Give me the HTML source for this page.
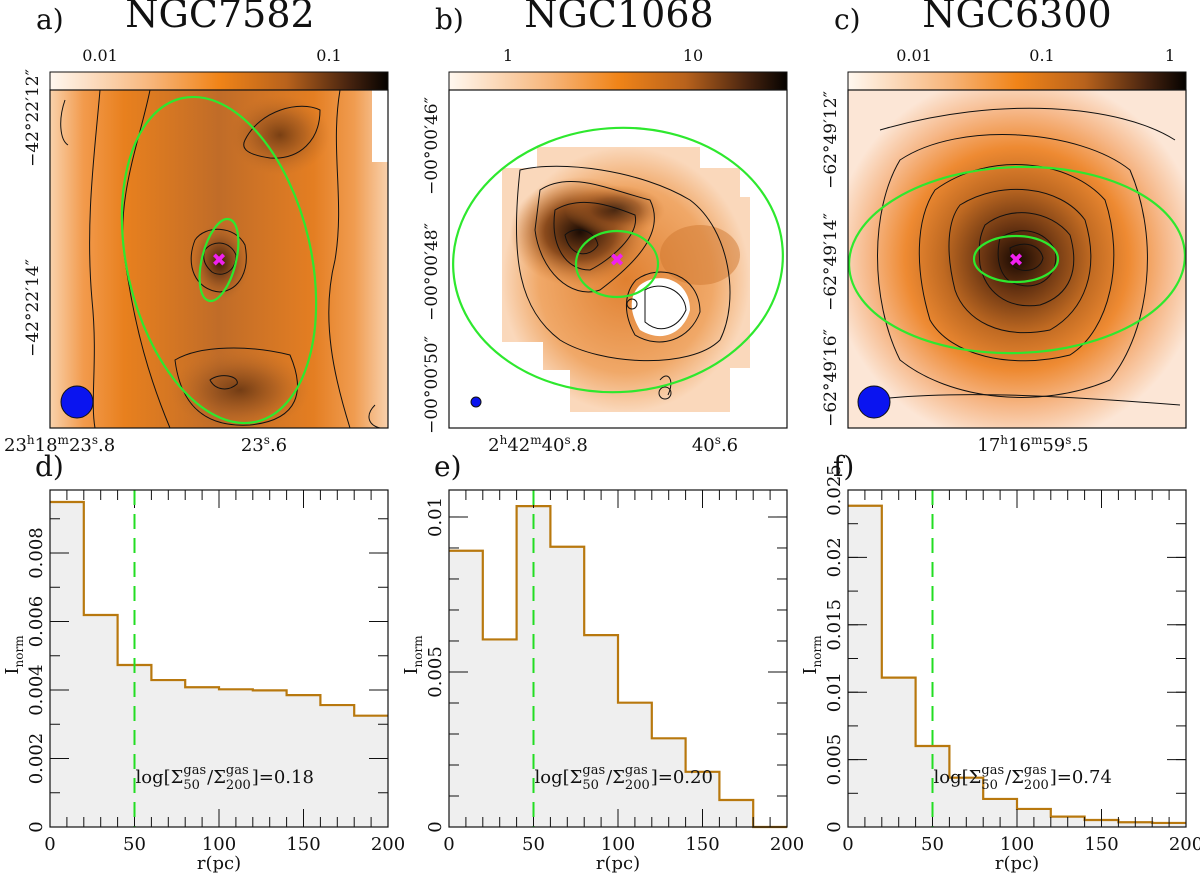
<!DOCTYPE html>
<html><head><meta charset="utf-8"><style>
html,body{margin:0;padding:0;background:#fff;width:1200px;height:873px;overflow:hidden}
svg{display:block}
text{font-family:"DejaVu Serif","Liberation Serif",serif;fill:#111}
</style></head><body>
<svg id="fig" width="1200" height="873" viewBox="0 0 1200 873" xmlns="http://www.w3.org/2000/svg">
<defs>
<linearGradient id="cbar" x1="0" x2="1" y1="0" y2="0">
<stop offset="0" stop-color="#fff8f0"/><stop offset="0.3" stop-color="#f7b57a"/><stop offset="0.5" stop-color="#f08418"/><stop offset="0.7" stop-color="#b8621c"/><stop offset="0.88" stop-color="#4a2510"/><stop offset="1" stop-color="#050200"/>
</linearGradient>
<linearGradient id="bgA" x1="0" x2="1" y1="0" y2="0">
<stop offset="0" stop-color="#f9d2ac"/><stop offset="0.1" stop-color="#f29a4c"/><stop offset="0.22" stop-color="#e8801e"/><stop offset="0.5" stop-color="#c06c28"/><stop offset="0.78" stop-color="#e47e22"/><stop offset="0.9" stop-color="#f09c50"/><stop offset="1" stop-color="#f8d0ac"/>
</linearGradient>
<radialGradient id="coreA"><stop offset="0" stop-color="#3a1a08"/><stop offset="0.5" stop-color="#8a4c1e" stop-opacity="0.8"/><stop offset="1" stop-color="#b86a28" stop-opacity="0"/></radialGradient>
<radialGradient id="blobB"><stop offset="0" stop-color="#1c0c04"/><stop offset="0.5" stop-color="#8a4a1c"/><stop offset="1" stop-color="#d27a30" stop-opacity="0"/></radialGradient>
<radialGradient id="bgB"><stop offset="0" stop-color="#e08030"/><stop offset="0.7" stop-color="#f0a868"/><stop offset="1" stop-color="#fad8bb"/></radialGradient>
<radialGradient id="bgC" cx="0.5" cy="0.5" r="0.55"><stop offset="0" stop-color="#1a0a02"/><stop offset="0.18" stop-color="#6a3512"/><stop offset="0.4" stop-color="#c06a22"/><stop offset="0.6" stop-color="#ee8a32"/><stop offset="0.8" stop-color="#f6b889"/><stop offset="1" stop-color="#fce6d6"/></radialGradient>
<clipPath id="cA"><rect x="50" y="90" width="338" height="338"/></clipPath>
<clipPath id="cB"><rect x="449" y="90" width="338" height="338"/></clipPath>
<clipPath id="cC"><rect x="848" y="90" width="338" height="338"/></clipPath>
</defs>

<!-- Panel a -->
<g>
<text x="36" y="29" font-size="28">a)</text>
<text x="220" y="27" font-size="38" text-anchor="middle">NGC7582</text>
<rect x="50" y="72" width="338" height="18" fill="url(#cbar)" stroke="#111"/>
<text x="100" y="61" font-size="16" text-anchor="middle" font-family="Liberation Sans">0.01</text>
<text x="329" y="61" font-size="16" text-anchor="middle" font-family="Liberation Sans">0.1</text>
<g clip-path="url(#cA)">
<rect x="50" y="90" width="338" height="338" fill="url(#bgA)"/>
<rect x="372" y="90" width="16" height="72" fill="#fff"/>
<ellipse cx="280" cy="135" rx="50" ry="40" fill="url(#coreA)" opacity="0.6"/>
<ellipse cx="240" cy="390" rx="70" ry="40" fill="url(#coreA)" opacity="0.6"/>
<ellipse cx="220" cy="262" rx="30" ry="40" fill="url(#coreA)"/>
<g fill="none" stroke="#111" stroke-width="1">
<path d="M100 90 C95 150 85 220 92 300 C98 360 90 400 95 428"/>
<path d="M150 90 C140 140 115 200 125 260 C135 330 150 380 170 428"/>
<path d="M340 90 C330 150 345 200 335 260 C320 320 335 380 350 428"/>
<path d="M245 140 C260 110 300 100 320 110 C320 140 300 160 270 158 C250 155 240 150 245 140Z"/>
<path d="M195 240 C205 225 235 225 245 245 C250 270 240 290 220 292 C195 290 185 265 195 240Z"/>
<path d="M205 250 C212 240 230 240 236 255 C236 272 222 278 212 272 C204 265 202 258 205 250Z"/>
<path d="M175 360 C200 345 250 345 290 355 C305 390 300 420 250 425 C200 428 180 400 175 360Z"/>
<path d="M210 380 C220 372 240 376 237 384 C228 392 215 390 210 380Z"/>
<path d="M65 100 C58 120 60 140 68 145"/><path d="M375 405 C365 415 368 425 380 428"/>
</g>
<ellipse cx="219" cy="260" rx="92" ry="166" transform="rotate(-13 219 260)" fill="none" stroke="#2ee82e" stroke-width="2.2"/>
<ellipse cx="219" cy="260" rx="17" ry="42" transform="rotate(14 219 260)" fill="none" stroke="#2ee82e" stroke-width="2.2"/>
<text x="219" y="266" font-size="18" text-anchor="middle" style="fill:#f020f0">✖</text>
<circle cx="77" cy="402" r="16" fill="#0a14f0" stroke="#111"/>
</g>
<rect x="50" y="90" width="338" height="338" fill="none" stroke="#111" stroke-width="1.2"/>
<text transform="translate(38,118) rotate(-90)" font-size="17" text-anchor="middle" font-family="Liberation Sans">−42°22′12″</text>
<text transform="translate(38,308) rotate(-90)" font-size="17" text-anchor="middle" font-family="Liberation Sans">−42°22′14″</text>
<text x="4" y="451" font-size="18" font-family="Liberation Sans">23<tspan dy="-7" font-size="12">h</tspan><tspan dy="7">18</tspan><tspan dy="-7" font-size="12">m</tspan><tspan dy="7">23</tspan><tspan dy="-7" font-size="12">s</tspan><tspan dy="7">.8</tspan></text>
<text x="264" y="451" font-size="18" text-anchor="middle" font-family="Liberation Sans">23<tspan dy="-7" font-size="12">s</tspan><tspan dy="7">.6</tspan></text>
</g>

<!-- Panel b -->
<g>
<text x="435" y="29" font-size="28">b)</text>
<text x="619" y="27" font-size="38" text-anchor="middle">NGC1068</text>
<rect x="449" y="72" width="338" height="18" fill="url(#cbar)" stroke="#111"/>
<text x="508" y="61" font-size="16" text-anchor="middle" font-family="Liberation Sans">1</text>
<text x="693" y="61" font-size="16" text-anchor="middle" font-family="Liberation Sans">10</text>
<g clip-path="url(#cB)">
<path d="M537 147 L700 147 L700 168 L740 168 L740 197 L750 197 L750 368 L730 368 L730 412 L570 412 L570 370 L543 370 L543 342 L502 342 L502 168 L537 168 Z" fill="url(#bgB)"/>
<ellipse cx="580" cy="232" rx="70" ry="55" fill="url(#blobB)"/>
<ellipse cx="615" cy="210" rx="50" ry="25" fill="url(#blobB)" opacity="0.7"/>
<ellipse cx="700" cy="255" rx="40" ry="30" fill="#d07830" opacity="0.5"/>
<path d="M640 285 C660 270 690 280 690 310 C685 330 665 345 640 330 C628 310 630 295 640 285Z" fill="#fff"/>
<g fill="none" stroke="#111" stroke-width="1">
<path d="M540 190 C570 170 610 190 650 200 C665 230 640 260 600 290 C570 300 540 270 535 230 Z"/>
<path d="M555 210 C580 195 610 205 635 215 C640 235 610 260 590 270 C565 270 550 245 555 210Z"/>
<path d="M565 235 C575 225 595 230 598 245 C590 258 570 258 565 235Z"/>
<path d="M520 170 C560 160 640 170 690 200 C730 230 740 300 720 340 C690 370 600 365 560 340 C520 310 510 260 520 170Z"/>
<path d="M636 280 C660 262 700 275 700 312 C690 340 660 350 635 335 C622 312 625 292 636 280Z"/>
<path d="M645 290 C660 280 685 290 686 310 C678 328 660 335 645 322 Z"/>
<path d="M660 380 C668 370 675 380 668 395"/>
<circle cx="665" cy="393" r="6"/><circle cx="632" cy="304" r="5"/>
</g>
<ellipse cx="618" cy="260" rx="165" ry="132" transform="rotate(-4 618 260)" fill="none" stroke="#2ee82e" stroke-width="2.2"/>
<ellipse cx="617" cy="264" rx="41" ry="33" fill="none" stroke="#2ee82e" stroke-width="2.2"/>
<text x="617" y="266" font-size="18" text-anchor="middle" style="fill:#f020f0">✖</text>
<circle cx="476" cy="402" r="5" fill="#0a14f0" stroke="#111"/>
</g>
<rect x="449" y="90" width="338" height="338" fill="none" stroke="#111" stroke-width="1.2"/>
<text transform="translate(437,146) rotate(-90)" font-size="17" text-anchor="middle" font-family="Liberation Sans">−00°00′46″</text>
<text transform="translate(437,272) rotate(-90)" font-size="17" text-anchor="middle" font-family="Liberation Sans">−00°00′48″</text>
<text transform="translate(437,385) rotate(-90)" font-size="17" text-anchor="middle" font-family="Liberation Sans">−00°00′50″</text>
<text x="538" y="451" font-size="18" text-anchor="middle" font-family="Liberation Sans">2<tspan dy="-7" font-size="12">h</tspan><tspan dy="7">42</tspan><tspan dy="-7" font-size="12">m</tspan><tspan dy="7">40</tspan><tspan dy="-7" font-size="12">s</tspan><tspan dy="7">.8</tspan></text>
<text x="715" y="451" font-size="18" text-anchor="middle" font-family="Liberation Sans">40<tspan dy="-7" font-size="12">s</tspan><tspan dy="7">.6</tspan></text>
</g>

<!-- Panel c -->
<g>
<text x="834" y="29" font-size="28">c)</text>
<text x="1017" y="27" font-size="38" text-anchor="middle">NGC6300</text>
<rect x="848" y="72" width="338" height="18" fill="url(#cbar)" stroke="#111"/>
<text x="914" y="61" font-size="16" text-anchor="middle" font-family="Liberation Sans">0.01</text>
<text x="1042" y="61" font-size="16" text-anchor="middle" font-family="Liberation Sans">0.1</text>
<text x="1170" y="61" font-size="16" text-anchor="middle" font-family="Liberation Sans">1</text>
<g clip-path="url(#cC)">
<rect x="848" y="90" width="338" height="338" fill="url(#bgC)"/>
<g fill="none" stroke="#111" stroke-width="1">
<path d="M900 160 C960 120 1080 130 1130 170 C1160 240 1150 330 1110 380 C1040 410 950 400 900 360 C870 300 870 210 900 160Z"/>
<path d="M935 190 C990 150 1070 160 1105 200 C1125 260 1110 330 1070 355 C1010 370 950 355 930 320 C915 270 915 220 935 190Z"/>
<path d="M960 205 C1000 180 1060 185 1085 220 C1100 270 1085 310 1050 330 C1000 340 965 320 955 290 C945 250 948 220 960 205Z"/>
<path d="M985 225 C1010 205 1050 210 1070 235 C1080 270 1070 295 1040 305 C1005 310 985 290 980 265 C978 245 980 235 985 225Z"/>
<path d="M1000 238 C1020 225 1045 230 1055 250 C1060 275 1040 290 1020 285 C1000 282 995 260 1000 238Z"/>
<path d="M1010 248 C1025 240 1040 245 1043 258 C1040 272 1020 274 1012 265 Z"/>
<path d="M880 130 C1000 95 1120 105 1175 140"/>
<path d="M870 400 C950 390 1050 395 1180 405"/>
</g>
<ellipse cx="1017" cy="260" rx="168" ry="93" transform="rotate(-2 1017 260)" fill="none" stroke="#2ee82e" stroke-width="2.2"/>
<ellipse cx="1016" cy="259" rx="42" ry="23" fill="none" stroke="#2ee82e" stroke-width="2.2"/>
<text x="1016" y="266" font-size="18" text-anchor="middle" style="fill:#f020f0">✖</text>
<circle cx="874" cy="402" r="16" fill="#0a14f0" stroke="#111"/>
</g>
<rect x="848" y="90" width="338" height="338" fill="none" stroke="#111" stroke-width="1.2"/>
<text transform="translate(836,140) rotate(-90)" font-size="17" text-anchor="middle" font-family="Liberation Sans">−62°49′12″</text>
<text transform="translate(836,262) rotate(-90)" font-size="17" text-anchor="middle" font-family="Liberation Sans">−62°49′14″</text>
<text transform="translate(836,378) rotate(-90)" font-size="17" text-anchor="middle" font-family="Liberation Sans">−62°49′16″</text>
<text x="1033" y="451" font-size="18" text-anchor="middle" font-family="Liberation Sans">17<tspan dy="-7" font-size="12">h</tspan><tspan dy="7">16</tspan><tspan dy="-7" font-size="12">m</tspan><tspan dy="7">59</tspan><tspan dy="-7" font-size="12">s</tspan><tspan dy="7">.5</tspan></text>
</g>

<g id="hists"></g>
</svg>
<script>
const radii = [0,20,40,60,80,100,120,140,160,180,200];
const valuesD = [0.00949,0.00619,0.00473,0.00429,0.00408,0.00402,0.00399,0.00385,0.00356,0.00325];
const valuesE = [0.00891,0.00605,0.01035,0.00904,0.00619,0.00401,0.00286,0.00178,0.00087,0.0];
const valuesF = [0.02383,0.01108,0.00601,0.00366,0.00208,0.00134,0.00077,0.00052,0.00035,0.0003];
const ymaxD = 0.00984, ymaxE = 0.01087, ymaxF = 0.025;
const ticksD = [0,0.002,0.004,0.006,0.008];
const tickLabelsD = ["0","0.002","0.004","0.006","0.008"];
const ticksE = [0,0.005,0.01];
const tickLabelsE = ["0","0.005","0.01"];
const ticksF = [0,0.005,0.01,0.015,0.02,0.025];
const tickLabelsF = ["0","0.005","0.01","0.015","0.02","0.025"];
const minorStepD = 0.001, minorStepE = 0.001, minorStepF = 0.0025;
const xTicks = [0,50,100,150,200];
const xTickLabels = ["0","50","100","150","200"];
const ratioLabels = ["0.18","0.20","0.74"];
const panelLetters = ["d)","e)","f)"];
const rHalf = 50;

const NS = "http://www.w3.org/2000/svg";
const root = document.getElementById("hists");
function mk(tag, attrs, parent){const e=document.createElementNS(NS,tag);for(const k in attrs)e.setAttribute(k,attrs[k]);(parent||root).appendChild(e);return e;}
function txt(x,y,size,s,parent){const t=mk("text",{x:x,y:y,"font-size":size},parent);t.textContent=s;return t;}

function hist(x0, vals, ymax, ticks, tlabels, minorStep, ratio, letter){
  const y0=490, W=338, H=337;
  const sx=r=>x0+r/200*W, sy=v=>y0+H-v/ymax*H;
  const g=mk("g",{});
  
  
  const lt=txt(x0-15,476,28,letter,g);
  
  
  let d="M"+sx(0)+" "+sy(vals[0]);
  for(let i=0;i<vals.length;i++){
    d+=" L"+sx(radii[i])+" "+sy(vals[i])+" L"+sx(radii[i+1])+" "+sy(vals[i]);
  }
  const fd=d+" L"+sx(200)+" "+sy(0)+" L"+sx(0)+" "+sy(0)+"Z";
  const f=mk("path",{d:fd,fill:"#efefef",stroke:"none"},g);
  
  
  const s=mk("path",{d:d,fill:"none",stroke:"#b8780e","stroke-width":2.2},g);
  
  
  for(let r=0;r<=200;r+=10){
    const L=(r%50===0)?18:10;
    mk("line",{x1:sx(r),x2:sx(r),y1:y0+H,y2:y0+H-L,stroke:"#111"},g);
    mk("line",{x1:sx(r),x2:sx(r),y1:y0,y2:y0+L,stroke:"#111"},g);
  }
  for(let v=0;v<=ymax+1e-9;v+=minorStep){
    mk("line",{x1:x0,x2:x0+10,y1:sy(v),y2:sy(v),stroke:"#111"},g);
    mk("line",{x1:x0+W,x2:x0+W-10,y1:sy(v),y2:sy(v),stroke:"#111"},g);
  }
  ticks.forEach((v,i)=>{
    mk("line",{x1:x0,x2:x0+19,y1:sy(v),y2:sy(v),stroke:"#111"},g);
    mk("line",{x1:x0+W,x2:x0+W-19,y1:sy(v),y2:sy(v),stroke:"#111"},g);
    const t=mk("text",{transform:`translate(${x0-8},${sy(v)}) rotate(-90)`,"font-size":18,"text-anchor":"middle"},g);
    t.textContent=tlabels[i];
    
    
  });
  xTicks.forEach((r,i)=>{
    const t=mk("text",{x:sx(r),y:y0+H+23,"font-size":18,"text-anchor":"middle"},g);
    t.textContent=xTickLabels[i];
    
    
  });
  const dl=mk("line",{x1:sx(rHalf),x2:sx(rHalf),y1:y0,y2:y0+H,stroke:"#22dd22","stroke-width":2,"stroke-dasharray":"15,9"},g);
  
  
  const fr=mk("rect",{x:x0,y:y0,width:W,height:H,fill:"none",stroke:"#111","stroke-width":1.2},g);
  
  
  const xl=mk("text",{x:x0+169,y:869,"font-size":18,"text-anchor":"middle"},g); xl.textContent="r(pc)";
  
  
  const yl=mk("text",{transform:`translate(${x0-32},655) rotate(-90)`,"font-size":18,"text-anchor":"middle"},g);
  yl.innerHTML='I<tspan font-size="12" dy="5">norm</tspan>';
  
  
  // annotation built piecewise
  const ag=mk("g",{},g);
  
  
  let x=sx(rHalf)+1; const by=783;
  let t=txt(x,by,18,"log[Σ",ag); x+=t.getComputedTextLength();
  let a=txt(x,by-9,13,"gas",ag); let b=txt(x,by+6,13,"50",ag);
  x+=Math.max(a.getComputedTextLength(),b.getComputedTextLength())+1;
  t=txt(x,by,18,"/Σ",ag); x+=t.getComputedTextLength();
  a=txt(x,by-9,13,"gas",ag); b=txt(x,by+6,13,"200",ag);
  x+=Math.max(a.getComputedTextLength(),b.getComputedTextLength())+1;
  txt(x,by,18,"]="+ratio,ag);
}
hist(50, valuesD, ymaxD, ticksD, tickLabelsD, minorStepD, ratioLabels[0], panelLetters[0]);
hist(449, valuesE, ymaxE, ticksE, tickLabelsE, minorStepE, ratioLabels[1], panelLetters[1]);
hist(848, valuesF, ymaxF, ticksF, tickLabelsF, minorStepF, ratioLabels[2], panelLetters[2]);
</script>
</body></html>
